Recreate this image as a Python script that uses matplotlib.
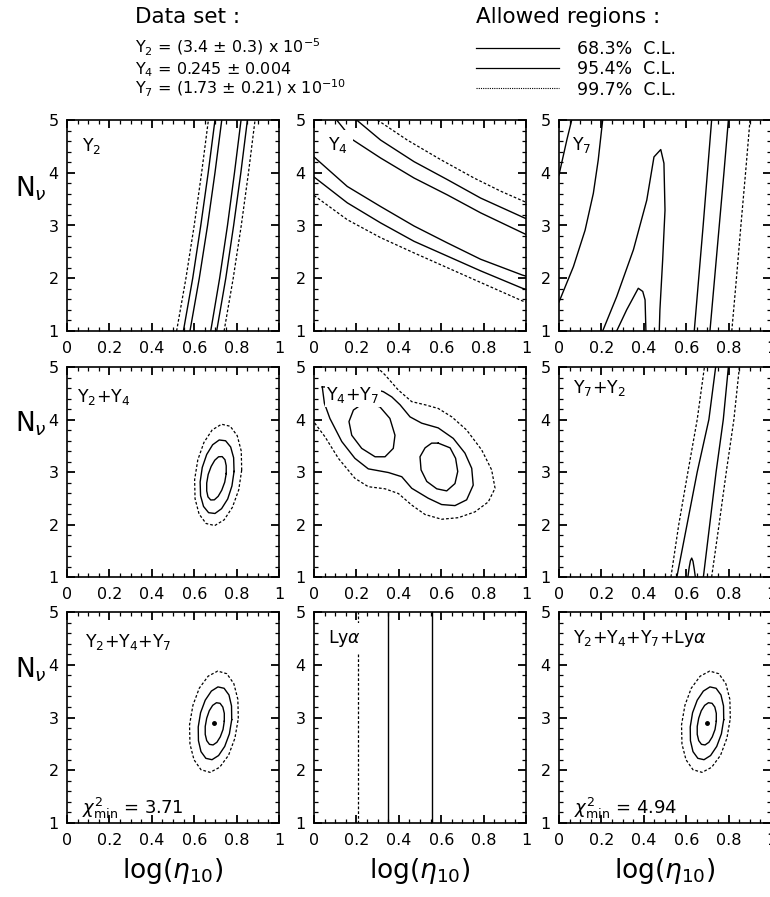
import matplotlib
matplotlib.use("Agg")
import matplotlib.pyplot as plt
from matplotlib.lines import Line2D
from matplotlib.ticker import MultipleLocator, FixedLocator, FixedFormatter

plt.rcParams["font.family"] = ["DejaVu Sans"]
plt.rcParams["mathtext.fontset"] = "dejavusans"

# ---------------- values ----------------
# N_nu levels where the near-vertical bands were read
n_levels = [1, 2, 3, 4, 5]

# Y2 alone: log(eta10) of each contour at N_nu = 1..5
y2_997_lo = [0.517, 0.561, 0.600, 0.635, 0.667]
y2_954_lo = [0.549, 0.593, 0.631, 0.666, 0.698]
y2_683_lo = [0.580, 0.624, 0.663, 0.698, 0.730]
y2_683_hi = [0.678, 0.720, 0.757, 0.790, 0.821]
y2_954_hi = [0.706, 0.749, 0.786, 0.820, 0.851]
y2_997_hi = [0.741, 0.784, 0.822, 0.856, 0.887]

# Y4 alone
y4_lo_x = [0.0, 0.157, 0.314, 0.472, 0.629, 0.786, 0.983, 1.0]
y4_683_lo = [4.30, 3.74, 3.36, 2.99, 2.67, 2.36, 2.06, 2.04]
y4_954_lo = [3.92, 3.43, 3.05, 2.70, 2.42, 2.14, 1.81, 1.79]
y4_997_lo = [3.57, 3.11, 2.77, 2.48, 2.20, 1.92, 1.57, 1.55]
y4_683_hi_x = [0.107, 0.145, 0.173, 0.314, 0.472, 0.629, 0.786, 1.0]
y4_683_hi_y = [5.0, 4.81, 4.65, 4.28, 3.90, 3.58, 3.24, 2.83]
y4_954_hi_x = [0.201, 0.314, 0.472, 0.629, 0.786, 1.0]
y4_954_hi_y = [5.0, 4.62, 4.21, 3.87, 3.52, 3.13]
y4_997_hi_x = [0.299, 0.440, 0.597, 0.755, 0.881, 1.0]
y4_997_hi_y = [5.0, 4.62, 4.25, 3.90, 3.65, 3.44]

# Y7 alone
y7_edge_x = [0.0, 0.019, 0.038, 0.060]
y7_edge_y = [3.96, 4.30, 4.64, 5.0]
y7_left_x = [0.0, 0.068, 0.123, 0.162, 0.185, 0.206]
y7_left_y = [1.55, 2.22, 2.91, 3.61, 4.24, 5.0]
y7_arch_x = [0.206, 0.272, 0.351, 0.414, 0.448, 0.480, 0.495, 0.500, 0.489, 0.476, 0.473]
y7_arch_y = [1.0, 1.65, 2.54, 3.48, 4.30, 4.44, 4.18, 3.29, 2.35, 1.40, 1.0]
y7_small_x = [0.272, 0.319, 0.374, 0.395, 0.406, 0.410]
y7_small_y = [1.0, 1.40, 1.81, 1.75, 1.59, 1.0]
y7_band_a = [0.638, 0.659, 0.680, 0.700, 0.720]
y7_band_b = [0.712, 0.734, 0.756, 0.778, 0.799]
y7_997_hi = [0.815, 0.837, 0.858, 0.880, 0.901]

# Y2 + Y4 (closed contours)
y24_997_x = [0.824, 0.822, 0.803, 0.770, 0.729, 0.685, 0.646, 0.617, 0.602,
             0.604, 0.623, 0.656, 0.697, 0.741, 0.780, 0.810]
y24_997_y = [3.035, 3.398, 3.691, 3.871, 3.910, 3.802, 3.564, 3.231, 2.855,
             2.492, 2.199, 2.019, 1.980, 2.088, 2.326, 2.659]
y24_954_x = [0.788, 0.786, 0.772, 0.748, 0.718, 0.687, 0.659, 0.638, 0.628,
             0.630, 0.644, 0.668, 0.698, 0.729, 0.758, 0.778]
y24_954_y = [3.010, 3.271, 3.476, 3.595, 3.610, 3.519, 3.334, 3.086, 2.810,
             2.550, 2.344, 2.225, 2.210, 2.301, 2.486, 2.734]
y24_683_x = [0.751, 0.751, 0.745, 0.732, 0.715, 0.697, 0.680, 0.666, 0.659,
             0.659, 0.665, 0.678, 0.695, 0.713, 0.730, 0.744]
y24_683_y = [2.970, 3.120, 3.234, 3.293, 3.290, 3.224, 3.106, 2.954, 2.790,
             2.640, 2.526, 2.467, 2.470, 2.536, 2.654, 2.806]

# Y4 + Y7
y47_997_x = [0.296, 0.335, 0.398, 0.461, 0.524, 0.586, 0.650, 0.720, 0.791, 0.838,
             0.854, 0.822, 0.759, 0.681, 0.602, 0.524, 0.461, 0.398, 0.335, 0.256,
             0.193, 0.115, 0.052, 0.0]
y47_997_y = [5.0, 4.85, 4.56, 4.34, 4.28, 4.21, 4.05, 3.80, 3.42, 3.04,
             2.69, 2.43, 2.24, 2.13, 2.10, 2.19, 2.37, 2.59, 2.68, 2.72,
             2.88, 3.26, 3.67, 3.95]
y47_954_x = [0.039, 0.049, 0.075, 0.131, 0.193, 0.256, 0.351, 0.414, 0.461, 0.539,
             0.602, 0.665, 0.720, 0.751, 0.744, 0.712, 0.657, 0.586, 0.508, 0.453,
             0.406, 0.367, 0.327, 0.30, 0.24, 0.14, 0.06, 0.039]
y47_954_y = [4.62, 4.31, 4.02, 3.58, 3.26, 3.06, 2.99, 2.91, 2.69, 2.50,
             2.38, 2.36, 2.47, 2.75, 3.07, 3.36, 3.64, 3.84, 3.93, 4.05,
             4.28, 4.43, 4.53, 4.56, 4.59, 4.61, 4.62, 4.62]
y47_683a_x = [0.248, 0.311, 0.358, 0.382, 0.374, 0.335, 0.288, 0.225, 0.178, 0.165,
              0.186, 0.225]
y47_683a_y = [4.31, 4.24, 4.02, 3.70, 3.45, 3.29, 3.29, 3.45, 3.70, 3.96, 4.18, 4.29]
y47_683b_x = [0.586, 0.642, 0.668, 0.678, 0.665, 0.626, 0.579, 0.532, 0.505, 0.500,
              0.524, 0.555]
y47_683b_y = [3.55, 3.46, 3.26, 3.01, 2.78, 2.64, 2.68, 2.82, 3.04, 3.29, 3.46, 3.55]

# Y7 + Y2
y72_997_lo = [0.528, 0.565, 0.608, 0.652, 0.686]
y72_954_lo = [0.556, 0.604, 0.652, 0.707, 0.739]
y72_954_hi = [0.681, 0.711, 0.741, 0.775, 0.799]
y72_997_hi = [0.720, 0.755, 0.789, 0.825, 0.851]
y72_683_x = [0.608, 0.614, 0.620, 0.626, 0.632, 0.638, 0.643]
y72_683_y = [1.0, 1.18, 1.31, 1.36, 1.30, 1.15, 1.0]

# Y2 + Y4 + Y7 (also used for + Ly alpha, identical within reading)
y247_997_x = [0.808, 0.806, 0.787, 0.754, 0.711, 0.666, 0.624, 0.594, 0.578,
              0.580, 0.599, 0.632, 0.675, 0.720, 0.762, 0.792]
y247_997_y = [2.980, 3.343, 3.641, 3.830, 3.880, 3.784, 3.556, 3.232, 2.860,
              2.497, 2.199, 2.010, 1.960, 2.056, 2.284, 2.608]
y247_954_x = [0.777, 0.776, 0.764, 0.741, 0.712, 0.681, 0.652, 0.630, 0.619,
              0.620, 0.632, 0.655, 0.684, 0.715, 0.744, 0.766]
y247_954_y = [2.960, 3.219, 3.427, 3.554, 3.580, 3.501, 3.328, 3.090, 2.820,
              2.561, 2.353, 2.226, 2.200, 2.279, 2.452, 2.690]
y247_683_x = [0.742, 0.742, 0.735, 0.722, 0.705, 0.687, 0.671, 0.659, 0.652,
              0.652, 0.659, 0.672, 0.689, 0.707, 0.723, 0.736]
y247_683_y = [2.930, 3.079, 3.198, 3.269, 3.280, 3.230, 3.127, 2.987, 2.830,
              2.681, 2.562, 2.491, 2.480, 2.530, 2.633, 2.773]
best_247 = (0.695, 2.90)
best_all = (0.700, 2.90)
chi2_247 = 3.71
chi2_all = 4.94

# Ly alpha alone: vertical limits on log(eta10)
lya_997 = [0.209]
lya_954 = [0.347, 0.558]

x_ticks = [0, 0.2, 0.4, 0.6, 0.8, 1]
x_tick_labels = ["0", "0.2", "0.4", "0.6", "0.8", "1"]
y_ticks = [1, 2, 3, 4, 5]

data_lines = [r"Y$_2$ = (3.4 $\pm$ 0.3) x 10$^{-5}$",
              r"Y$_4$ = 0.245 $\pm$ 0.004",
              r"Y$_7$ = (1.73 $\pm$ 0.21) x 10$^{-10}$"]
cl_labels = ["68.3%  C.L.", "95.4%  C.L.", "99.7%  C.L."]

# ---------------- figure ----------------
W, H = 770, 897
fig = plt.figure(figsize=(W / 100, H / 100), dpi=100)

col_left = [67, 314, 559]
row_top = [120, 367, 612]
row_h = [211, 210, 211]
ax_w = 212

SOLID = dict(color="black", lw=1.0, ls="-")
DASH = dict(color="black", lw=0.9, ls=(0, (2.2, 1.6)))


def band(ax, xs, style):
    ax.plot(xs, n_levels, **style)


def curve(ax, xs, ys, style, closed=False):
    if closed:
        xs = list(xs) + [xs[0]]
        ys = list(ys) + [ys[0]]
    ax.plot(xs, ys, **style)


axes = []
for r in range(3):
    for c in range(3):
        left = col_left[c] / W
        bottom = 1 - (row_top[r] + row_h[r]) / H
        ax = fig.add_axes([left, bottom, ax_w / W, row_h[r] / H])
        ax.set_xlim(0, 1)
        ax.set_ylim(1, 5)
        ax.xaxis.set_major_locator(FixedLocator(x_ticks))
        ax.xaxis.set_major_formatter(FixedFormatter(x_tick_labels))
        ax.xaxis.set_minor_locator(MultipleLocator(0.05))
        ax.yaxis.set_major_locator(FixedLocator(y_ticks))
        ax.yaxis.set_minor_locator(MultipleLocator(0.2))
        ax.tick_params(which="both", direction="in", top=True, right=True,
                       labelsize=11.5, color="black")
        ax.tick_params(which="major", length=6, width=1.3)
        ax.tick_params(which="minor", length=3.2, width=0.9)
        ax.tick_params(axis="x", pad=7)
        ax.tick_params(axis="y", pad=6)
        for s in ax.spines.values():
            s.set_linewidth(1.2)
        axes.append(ax)

# panel 1: Y2
ax = axes[0]
for xs, st in [(y2_997_lo, DASH), (y2_954_lo, SOLID), (y2_683_lo, SOLID),
               (y2_683_hi, SOLID), (y2_954_hi, SOLID), (y2_997_hi, DASH)]:
    band(ax, xs, st)

# panel 2: Y4
ax = axes[1]
curve(ax, y4_lo_x, y4_683_lo, SOLID)
curve(ax, y4_lo_x, y4_954_lo, SOLID)
curve(ax, y4_lo_x, y4_997_lo, DASH)
curve(ax, y4_683_hi_x, y4_683_hi_y, SOLID)
curve(ax, y4_954_hi_x, y4_954_hi_y, SOLID)
curve(ax, y4_997_hi_x, y4_997_hi_y, DASH)

# panel 3: Y7
ax = axes[2]
curve(ax, y7_edge_x, y7_edge_y, SOLID)
curve(ax, y7_left_x, y7_left_y, SOLID)
curve(ax, y7_arch_x, y7_arch_y, SOLID)
curve(ax, y7_small_x, y7_small_y, SOLID)
band(ax, y7_band_a, SOLID)
band(ax, y7_band_b, SOLID)
band(ax, y7_997_hi, DASH)

# panel 4: Y2+Y4
ax = axes[3]
curve(ax, y24_997_x, y24_997_y, DASH, closed=True)
curve(ax, y24_954_x, y24_954_y, SOLID, closed=True)
curve(ax, y24_683_x, y24_683_y, SOLID, closed=True)

# panel 5: Y4+Y7
ax = axes[4]
curve(ax, y47_997_x, y47_997_y, DASH)
curve(ax, y47_954_x, y47_954_y, SOLID)
curve(ax, y47_683a_x, y47_683a_y, SOLID, closed=True)
curve(ax, y47_683b_x, y47_683b_y, SOLID, closed=True)

# panel 6: Y7+Y2
ax = axes[5]
band(ax, y72_997_lo, DASH)
band(ax, y72_954_lo, SOLID)
band(ax, y72_954_hi, SOLID)
band(ax, y72_997_hi, DASH)
curve(ax, y72_683_x, y72_683_y, SOLID)

# panels 7 and 9: all combined
for ax, best, chi2 in [(axes[6], best_247, chi2_247), (axes[8], best_all, chi2_all)]:
    curve(ax, y247_997_x, y247_997_y, DASH, closed=True)
    curve(ax, y247_954_x, y247_954_y, SOLID, closed=True)
    curve(ax, y247_683_x, y247_683_y, SOLID, closed=True)
    ax.plot([best[0]], [best[1]], "o", color="black", ms=2.5)
    ax.text(0.07, 0.045, r"$\chi^2_{\rm min}$ = %.2f" % chi2, transform=ax.transAxes,
            fontsize=13, ha="left", va="baseline")

# panel 8: Ly alpha
ax = axes[7]
for x in lya_997:
    ax.axvline(x, **DASH)
for x in lya_954:
    ax.axvline(x, **SOLID)

# panel labels (white box hides the contour underneath, like the original)
panel_labels = [
    (r"Y$_2$", 0.070, 0.924, 0),
    (r"Y$_4$", 0.067, 0.929, 3.5),
    (r"Y$_7$", 0.060, 0.929, 0),
    (r"Y$_2$+Y$_4$", 0.045, 0.905, 0),
    (r"Y$_4$+Y$_7$", 0.058, 0.914, 1.2),
    (r"Y$_7$+Y$_2$", 0.067, 0.950, 0),
    (r"Y$_2$+Y$_4$+Y$_7$", 0.085, 0.906, 0),
    (r"Ly$\alpha$", 0.068, 0.923, 3.5),
    (r"Y$_2$+Y$_4$+Y$_7$+Ly$\alpha$", 0.068, 0.923, 0),
]
for ax, (txt, tx, ty, pad) in zip(axes, panel_labels):
    kw = {}
    if pad:
        kw["bbox"] = dict(facecolor="white", edgecolor="none", pad=pad)
    ax.text(tx, ty, txt, transform=ax.transAxes, fontsize=12.5, ha="left", va="top",
            zorder=5, **kw)

# axis titles
for py in [196, 431, 677]:
    fig.text(15 / W, 1 - py / H, r"N$_\nu$", fontsize=19, ha="left", va="baseline")
for c in range(3):
    cx = (col_left[c] + ax_w / 2) / W
    fig.text(cx, 1 - 878 / H, r"log($\eta_{10}$)", fontsize=19, ha="center",
             va="baseline")

# header
fig.text(135 / W, 1 - 23 / H, "Data set :", fontsize=15.5, ha="left", va="baseline")
for i, s in enumerate(data_lines):
    fig.text(135 / W, 1 - (53.5 + 20.5 * i) / H, s, fontsize=11.5, ha="left",
             va="baseline")
fig.text(476 / W, 1 - 23 / H, "Allowed regions :", fontsize=15.5, ha="left",
         va="baseline")
handles = [Line2D([], [], color="black", lw=0.9),
           Line2D([], [], color="black", lw=0.9),
           Line2D([], [], color="black", lw=0.8, ls=(0, (1, 1)))]
fig.legend(handles, cl_labels, loc="upper left", bbox_to_anchor=(476 / W, 1 - 40 / H),
           frameon=False, fontsize=12.5, handlelength=4.8, handletextpad=1.0,
           labelspacing=0.13, borderpad=0, borderaxespad=0)

fig.savefig("out.png", dpi=100)
